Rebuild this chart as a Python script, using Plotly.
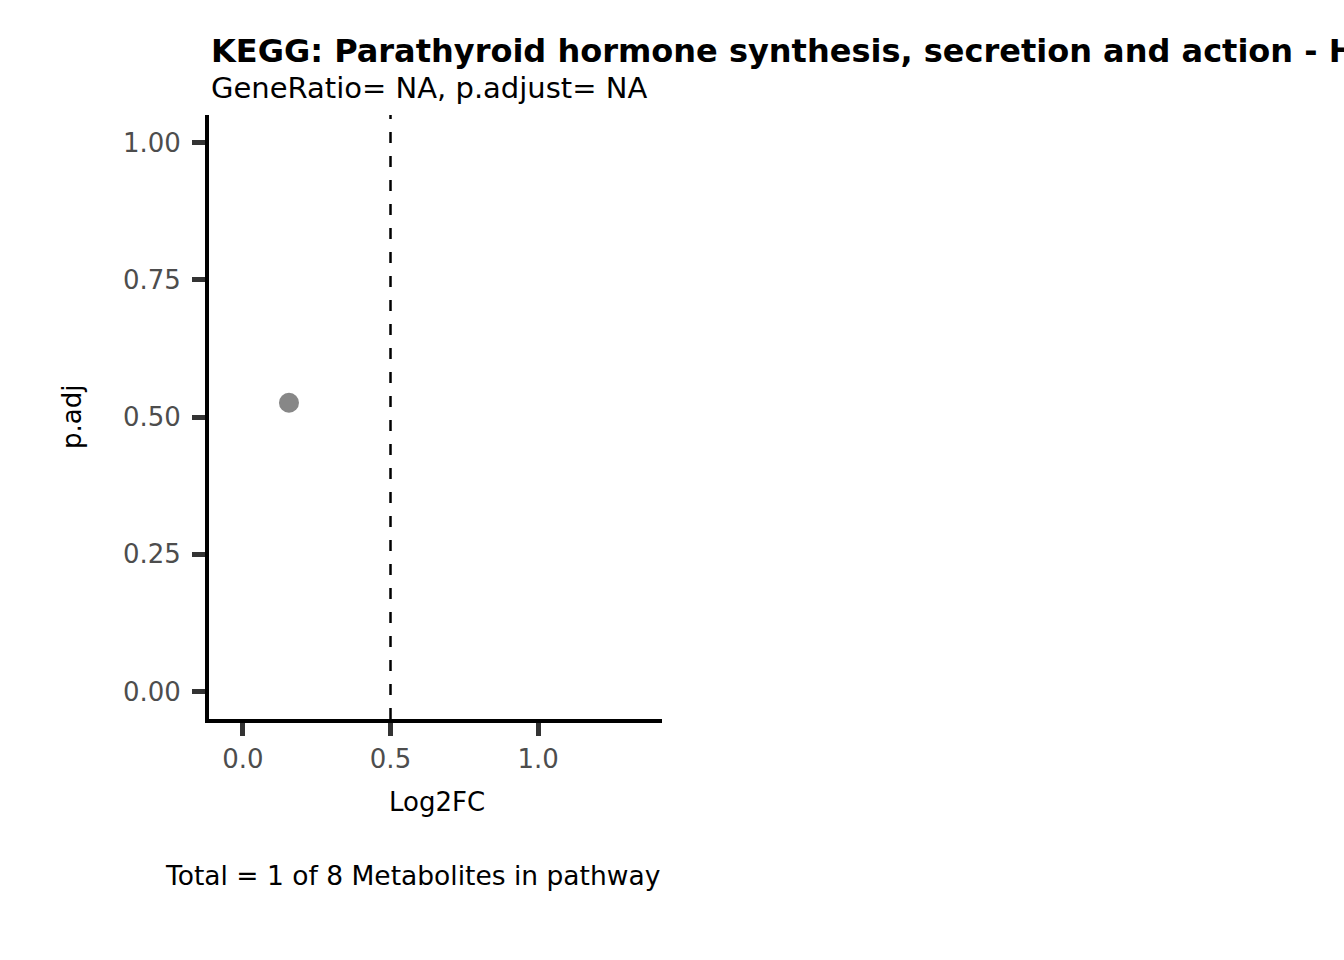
import plotly.graph_objects as go

# data
log2fc = [0.156]
padj = [0.526]
vline_x = 0.5
x_ticks = [0.0, 0.5, 1.0]
x_tick_labels = ["0.0", "0.5", "1.0"]
y_ticks = [0.0, 0.25, 0.5, 0.75, 1.0]
y_tick_labels = ["0.00", "0.25", "0.50", "0.75", "1.00"]
title = "KEGG: Parathyroid hormone synthesis, secretion and action - Homo sapiens (human)"
subtitle = "GeneRatio= NA, p.adjust= NA"
caption = "Total = 1 of 8 Metabolites in pathway"

FONT = "DejaVu Sans"

fig = go.Figure()
fig.add_trace(go.Scatter(
    x=log2fc, y=padj, mode="markers",
    marker=dict(color="#878787", size=20, line=dict(width=0)),
    showlegend=False, hoverinfo="x+y"))

fig.add_shape(type="line", xref="x", yref="paper", x0=vline_x, x1=vline_x, y0=0, y1=1,
              line=dict(color="black", width=2.5, dash="11px,13px"))

axis_common = dict(
    showgrid=False, zeroline=False, showline=True, linecolor="black", linewidth=4,
    ticks="outside", ticklen=13, tickwidth=5, tickcolor="#333333",
    tickfont=dict(family=FONT, size=26, color="#4D4D4D"),
)

fig.update_layout(
    width=1344, height=960,
    margin=dict(l=209, r=682, t=115, b=241),
    paper_bgcolor="white", plot_bgcolor="white",
    font=dict(family=FONT, color="black"),
    xaxis=dict(range=[-0.115, 1.42], tickvals=x_ticks, ticktext=x_tick_labels,
               ticklabelstandoff=1, **axis_common),
    yaxis=dict(range=[-0.05, 1.05], tickvals=y_ticks, ticktext=y_tick_labels,
               ticklabelstandoff=6, **axis_common),
    annotations=[
        dict(text="<b>" + title + "</b>", xref="paper", yref="paper", x=0, y=1 + (115 - 51) / 604,
             xanchor="left", yanchor="middle", showarrow=False, font=dict(family=FONT, size=32, color="black")),
        dict(text=subtitle, xref="paper", yref="paper", x=0, y=1 + (115 - 88) / 604,
             xanchor="left", yanchor="middle", showarrow=False, font=dict(family=FONT, size=29, color="black")),
        dict(text="Log2FC", xref="paper", yref="paper", x=(437 - 209) / 453, y=(719 - 802) / 604,
             xanchor="center", yanchor="middle", showarrow=False, font=dict(family=FONT, size=26, color="black")),
        dict(text="p.adj", xref="paper", yref="paper", x=(72 - 209) / 453, y=(719 - 417) / 604,
             xanchor="center", yanchor="middle", textangle=-90, showarrow=False,
             font=dict(family=FONT, size=26, color="black")),
        dict(text=caption, xref="paper", yref="paper", x=1, y=(719 - 875) / 604,
             xanchor="right", yanchor="middle", showarrow=False, font=dict(family=FONT, size=26.5, color="black")),
    ],
)

fig.write_html("out.html")
